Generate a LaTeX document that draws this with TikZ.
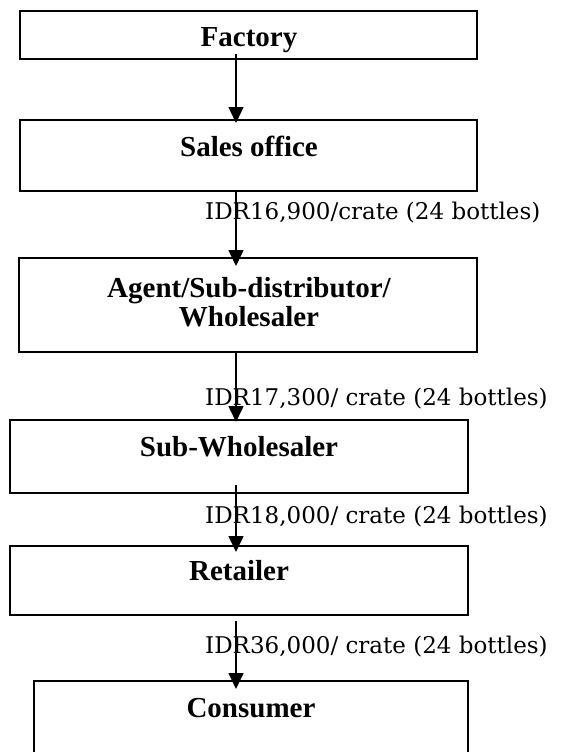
\documentclass[tikz,border=0pt]{standalone}
\usepackage{fontspec}
\setmainfont{Liberation Serif}
\newfontfamily\labfont{DejaVu Serif}
\usetikzlibrary{arrows.meta,calc}
\begin{document}
\begin{tikzpicture}[x=1pt,y=-1pt,
 box/.style={draw,line width=2pt,inner sep=0pt,rectangle},
 btxt/.style={font=\bfseries\fontsize{29}{29}\selectfont,inner sep=0pt,anchor=base,align=center},
 price/.style={font=\labfont\fontsize{23}{23}\selectfont,inner sep=0pt,anchor=base west},
 arr/.style={line width=1.6pt,-{Triangle[length=16pt,width=15pt]}}]
\useasboundingbox (0,0) rectangle (563,752);
% boxes
\node[box,minimum width=457pt,minimum height=48pt] (factory) at (248.5,35) {};
\node[box,minimum width=457pt,minimum height=71.5pt] (sales) at (248.5,155.25) {};
\node[box,minimum width=458pt,minimum height=94pt] (agent) at (248,305) {};
\node[box,minimum width=458.5pt,minimum height=72.5pt] (subw) at (238.75,456.25) {};
\node[box,minimum width=458.5pt,minimum height=69pt] (retail) at (238.75,580.5) {};
\node[box,minimum width=434.5pt,minimum height=99pt] (consumer) at (250.75,730.5) {};
% box texts
\node[btxt] (factoryT) at (249,47) {Factory};
\node[btxt] (salesT) at (249,156) {Sales office};
\node[btxt] (agentT) at (249,326) {Agent/Sub-distributor/\\Wholesaler};
\node[btxt] (subwT) at (239,456) {Sub-Wholesaler};
\node[btxt] (retailT) at (239,580) {Retailer};
\node[btxt] (consumerT) at (251,717) {Consumer};
% price labels
\node[price] (p1) at (205,219) {IDR16,900/crate (24 bottles)};
\node[price] (p2) at (205,405) {IDR17,300/ crate (24 bottles)};
\node[price] (p3) at (205,523) {IDR18,000/ crate (24 bottles)};
\node[price] (p4) at (205,653) {IDR36,000/ crate (24 bottles)};
% arrows
\coordinate (ax) at (236,0);
\draw[arr] ($(factory.south -| ax)+(0,-6)$) -- ($(sales.north -| ax)+(0,4.5)$);
\draw[arr] ($(sales.south -| ax)+(0,-1)$) -- ($(agent.north -| ax)+(0,9)$);
\draw[arr] (agent.south -| ax) -- ($(subw.north -| ax)+(0,3)$);
\draw[arr] ($(subw.south -| ax)+(0,-9)$) -- ($(retail.north -| ax)+(0,7)$);
\draw[arr] ($(retail.south -| ax)+(0,4.5)$) -- ($(consumer.north -| ax)+(0,9)$);
\end{tikzpicture}
\end{document}
